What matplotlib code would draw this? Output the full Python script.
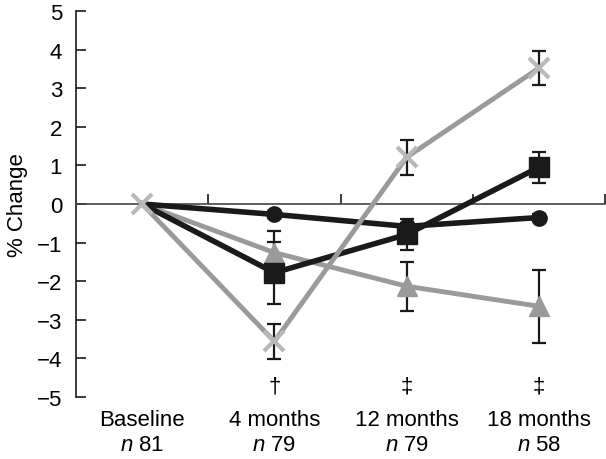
import matplotlib
matplotlib.use("Agg")
import matplotlib.pyplot as plt
import matplotlib.transforms as mtransforms

plt.rcParams['font.family'] = ['Liberation Sans', 'DejaVu Sans']
plt.rcParams['mathtext.fontset'] = 'custom'
plt.rcParams['mathtext.it'] = 'Liberation Sans:italic'
plt.rcParams['mathtext.rm'] = 'Liberation Sans'

categories = ["Baseline", "4 months", "12 months", "18 months"]
n_labels = ["81", "79", "79", "58"]
signif = ["", "\u2020", "\u2021", "\u2021"]

tri_vals = [0, -1.26, -2.13, -2.65]
tri_err = [0, 0.55, 0.63, 0.95]
sq_vals = [0, -1.78, -0.79, 0.95]
sq_err = [0, 0.80, 0.39, 0.40]
circ_vals = [0, -0.27, -0.58, -0.35]
circ_err = [0, 0.10, 0.10, 0.10]
x_vals = [0, -3.56, 1.21, 3.52]
x_err = [0, 0.45, 0.46, 0.45]

xs = list(range(len(categories)))
black = "#1a1a1a"
gray = "#9a9a9a"
fs = 16

fig = plt.figure(figsize=(6.06, 4.6), dpi=100)
ax = fig.add_axes([76 / 606, 1 - 398 / 460, 529 / 606, 386 / 460])

# error bars first, markers and lines on top
for vals, err in [(tri_vals, tri_err), (sq_vals, sq_err), (circ_vals, circ_err), (x_vals, x_err)]:
    ax.errorbar(xs[1:], vals[1:], yerr=err[1:], fmt="none", ecolor=black,
                elinewidth=1.6, capsize=5, capthick=1.6, zorder=2)

ax.plot(xs, tri_vals, color=gray, lw=3.5, marker="^", ms=15, mfc=gray, mec=gray,
        markevery=[1, 2, 3], zorder=3)
ax.plot(xs, circ_vals, color=black, lw=4, marker="o", ms=11, mfc=black, mec=black,
        markevery=[1, 2, 3], zorder=4)
ax.plot(xs, sq_vals, color=black, lw=4, marker="s", ms=15, mfc=black, mec=black,
        markevery=[1, 2, 3], zorder=5)
ax.plot(xs, x_vals, color=gray, lw=3.5, zorder=6)
ax.plot(xs, x_vals, color="#b8b8b8", lw=0, marker="x", ms=14, mew=3, zorder=7)

ax.set_xlim(-0.5, 3.5)
ax.set_ylim(-5, 5)
ax.set_yticks(range(-5, 6))
ax.set_yticklabels(["\u2212%d" % -v if v < 0 else str(v) for v in range(-5, 6)])
ax.set_xticks([0.5, 1.5, 2.5, 3.5])
ax.set_xticklabels([])
ax.tick_params(axis="both", direction="in", length=7, width=1.2, color=black,
               labelsize=fs, pad=6)
ax.tick_params(axis="y", pad=10)

ax.spines["top"].set_visible(False)
ax.spines["right"].set_visible(False)
ax.spines["bottom"].set_position(("data", 0))
ax.spines["bottom"].set_color("#444444")
ax.spines["bottom"].set_linewidth(1.2)
ax.spines["left"].set_linewidth(1.2)
ax.spines["left"].set_color(black)

ax.set_ylabel("% Change", fontsize=fs, labelpad=6)

trans = mtransforms.blended_transform_factory(ax.transData, fig.transFigure)
for i, cat in enumerate(categories):
    ax.text(i, 1 - 421 / 460, cat, transform=trans, ha="center", va="center", fontsize=fs)
    ax.text(i, 1 - 446 / 460, "$n$ " + n_labels[i], transform=trans, ha="center",
            va="center", fontsize=fs)
    if signif[i]:
        ax.text(i, 1 - 387 / 460, signif[i], transform=trans, ha="center",
                va="center", fontsize=fs)

fig.savefig("out.png", dpi=100)
